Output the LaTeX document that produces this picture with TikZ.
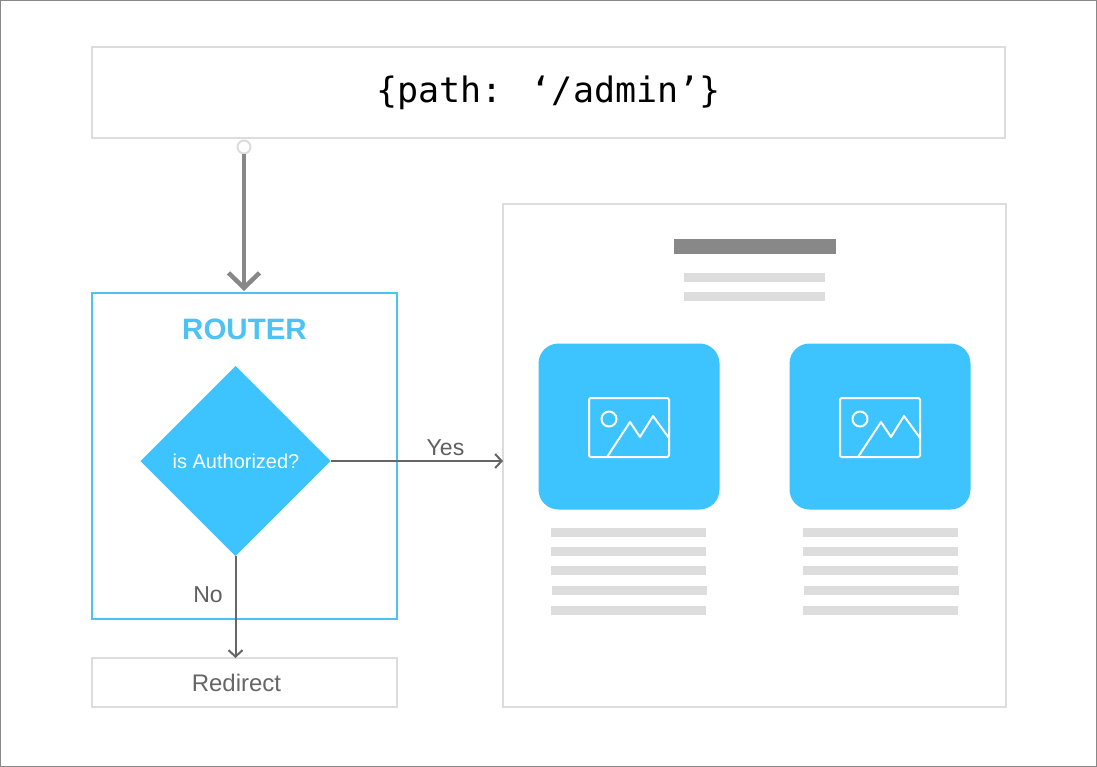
\documentclass[tikz,border=0pt]{standalone}
\usepackage{fontspec}
\setmainfont{Liberation Sans}
\newfontfamily\codefont{DejaVu Sans Mono}
\usetikzlibrary{shapes.geometric,arrows.meta}
\definecolor{cardblue}{HTML}{3DC4FF}
\definecolor{routerblue}{HTML}{4DC3F3}
\definecolor{paleline}{HTML}{DDDDDD}
\definecolor{darkbar}{HTML}{888888}
\definecolor{arrowgrey}{HTML}{666666}
\definecolor{labelgrey}{HTML}{5F5F5F}
\tikzset{
  x=1pt,y=-1pt,
  frame/.style={draw=paleline,line width=2pt,rectangle,inner sep=0pt,outer sep=0pt},
  routerframe/.style={draw=routerblue,line width=2pt,rectangle,inner sep=0pt,outer sep=0pt},
  bar/.style={fill=paleline,draw=none,rectangle,inner sep=0pt,outer sep=0pt,minimum height=9pt},
  card/.style={fill=cardblue,draw=none,rectangle,rounded corners=20pt,inner sep=0pt,outer sep=0pt,minimum width=181pt,minimum height=166pt},
  icon/.style={draw=white,line width=2pt,line join=round},
  thinarrow/.style={draw=arrowgrey,line width=2pt,-{Straight Barb[length=6.5pt,width=14pt,line width=2pt]}},
  thickarrow/.style={draw=darkbar,line width=4.5pt,-{Straight Barb[length=15pt,width=31pt,line width=4.5pt]}},
  lab/.style={text=labelgrey,inner sep=0pt,font=\fontsize{23}{26}\selectfont},
}
\begin{document}
\begin{tikzpicture}
\useasboundingbox (0,0) rectangle (1097,767);
\draw[draw=darkbar,line width=1pt] (0.5,0.5) rectangle (1096.5,766.5);
% path box
\node[frame,minimum width=913pt,minimum height=91pt,font=\codefont\fontsize{35}{40}\selectfont] (pathbox) at (548.5,92.5) {\{path: ‘/admin’\}};
% router
\node[routerframe,minimum width=305pt,minimum height=326pt] (router) at (244.5,456) {};
\node[text=routerblue,inner sep=0pt,font=\bfseries\fontsize{29.5}{32}\selectfont] (routertitle) at (244.5,329) {ROUTER};
\node[diamond,aspect=1,fill=cardblue,draw=none,inner sep=0pt,outer sep=0pt,minimum width=190pt,minimum height=190pt] (decision) at (235.5,461) {};
\node[text=white,inner sep=0pt,font=\fontsize{20}{22}\selectfont] (decisionlabel) at (236,461) {is Authorized?};
% redirect
\node[frame,minimum width=305pt,minimum height=49pt] (redirect) at (244.5,682.5) {};
\node[text=arrowgrey,inner sep=0pt,font=\fontsize{24}{26}\selectfont] (redirectlabel) at (236.5,683) {Redirect};
% page
\node[frame,minimum width=503pt,minimum height=503pt] (page) at (754.5,455.5) {};
\node[fill=darkbar,rectangle,inner sep=0pt,outer sep=0pt,minimum width=162pt,minimum height=15pt] (headbar) at (755,246.5) {};
\node[bar,minimum width=141pt] (sub1) at (754.5,277.5) {};
\node[bar,minimum width=141pt] (sub2) at (754.5,296.5) {};
% cards
\foreach \nm/\dx/\bx in {left/0/0,right/251/252}{
  \begin{scope}[xshift=\dx pt]
    \node[card] (card\nm) at (629,426.5) {};
    \draw[icon,rounded corners=1.5pt] (589,398) rectangle (669,457);
    \draw[icon] (609,419) circle (7.5);
    \draw[icon] (607,457) -- (630,422) -- (640,437) -- (653,416) -- (669,438);
  \end{scope}
  \begin{scope}[xshift=\bx pt]
    \node[bar,minimum width=155pt] (l1\nm) at (628.5,532.5) {};
    \node[bar,minimum width=155pt] (l2\nm) at (628.5,551.5) {};
    \node[bar,minimum width=155pt] (l3\nm) at (628.5,570.5) {};
    \node[bar,minimum width=155pt] (l4\nm) at (629,590.5) {};
    \node[bar,minimum width=155pt] (l5\nm) at (628.5,610) {};
  \end{scope}
}
% connectors
\node[circle,draw=paleline,line width=2pt,fill=white,minimum size=13pt,inner sep=0pt,outer sep=1pt] (start) at (244,147) {};
\draw[thickarrow,shorten >=2pt] (start.south) -- (start.south |- router.north);
\draw[thinarrow] (decision.east) -- (decision.east -| page.west);
\draw[thinarrow] (decision.south) -- (decision.south |- redirect.north);
\node[lab] (yes) at (445.5,448) {Yes};
\node[lab] (no) at (208,595) {No};
\end{tikzpicture}
\end{document}
